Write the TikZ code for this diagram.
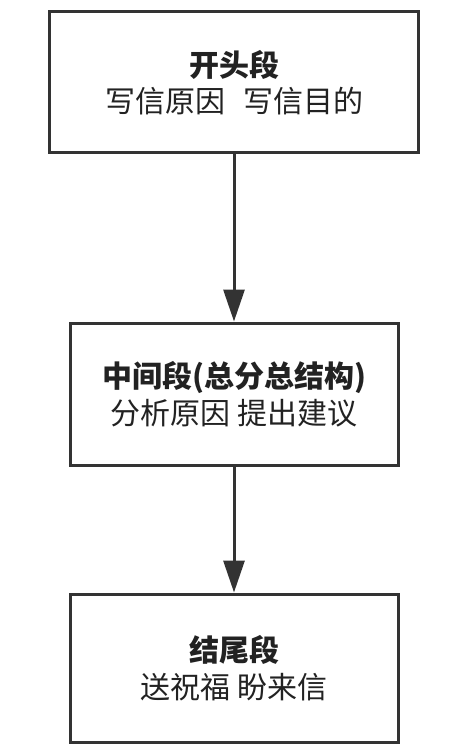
\documentclass[tikz,border=0pt]{standalone}
\usepackage{fontspec}
\newfontfamily\cjk{Noto Sans CJK SC}
\usetikzlibrary{arrows.meta}
\definecolor{linegray}{HTML}{333333}
\definecolor{textgray}{HTML}{222222}
\tikzset{
  stagebox/.style={draw=linegray, line width=3pt, fill=white, align=center,
    text=textgray, font=\cjk\fontsize{30}{36.5}\selectfont, inner sep=0pt},
  flowarrow/.style={draw=linegray, line width=3pt,
    -{Triangle[width=21pt,length=32pt]}},
}
\begin{document}
\begin{tikzpicture}[x=1pt,y=-1pt]
  \fill[white] (0,0) rectangle (468,754);
  \useasboundingbox (0,0) rectangle (468,754);
  \node[stagebox, minimum width=369pt, minimum height=141pt] (b1) at (234,82.5)
    {{\bfseries 开头段}\\写信原因\hspace{0.6em}写信目的};
  \node[stagebox, minimum width=328pt, minimum height=142pt] (b2) at (234,394)
    {{\bfseries 中间段(总分总结构)}\\分析原因 提出建议};
  \node[stagebox, minimum width=328pt, minimum height=148pt] (b3) at (234,668)
    {{\bfseries 结尾段}\\送祝福 盼来信};
  \draw[flowarrow] (b1.south) -- (b2.north);
  \draw[flowarrow] (b2.south) -- (b3.north);
\end{tikzpicture}
\end{document}
